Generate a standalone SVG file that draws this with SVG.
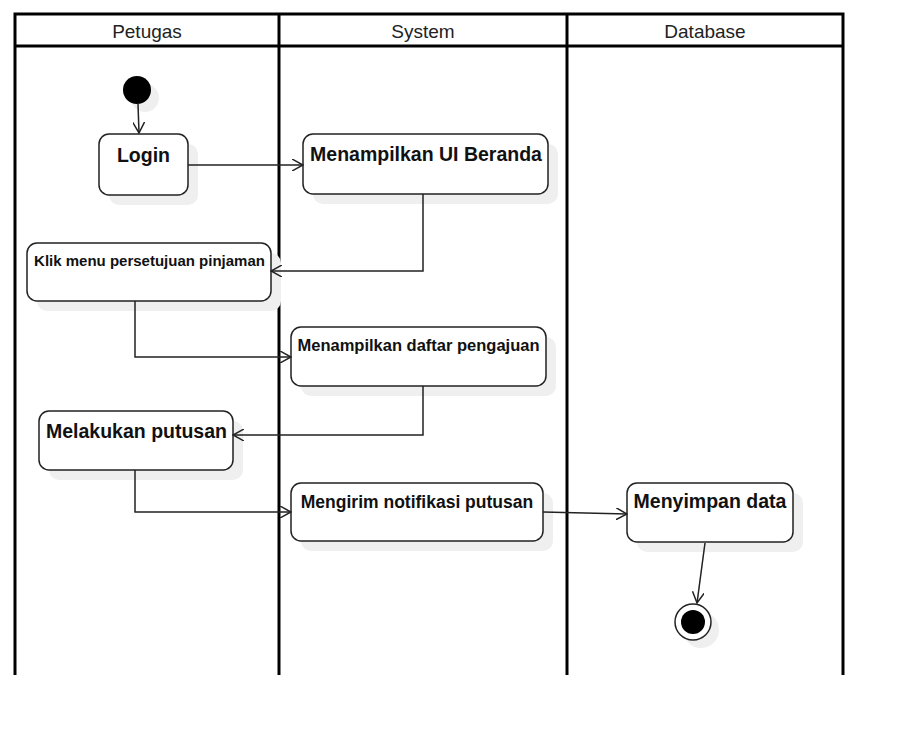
<svg xmlns="http://www.w3.org/2000/svg" width="903" height="735" viewBox="0 0 903 735">
<style>
.lane{fill:none;stroke:#000;stroke-width:3}
.hdr{font-family:"Liberation Sans",Arial,sans-serif;font-size:19px;fill:#222;text-anchor:middle}
.box{fill:#fff;stroke:#222;stroke-width:1.5}
.sh{fill:#efefef;stroke:none}
.t{font-family:"Liberation Sans",Arial,sans-serif;font-weight:bold;fill:#111;text-anchor:middle}
.c{fill:none;stroke:#222;stroke-width:1.5}
</style>
<defs>
<marker id="arr" viewBox="0 0 12 12" refX="11" refY="6" markerWidth="12" markerHeight="12" markerUnits="userSpaceOnUse" orient="auto">
<path d="M0,0 L11,6 L0,12" fill="none" stroke="#222" stroke-width="1.5"/>
</marker>
</defs>
<rect width="903" height="735" fill="#fff"/>
<g id="lanes">
<path class="lane" d="M15,675 V14 H843 V675 M279,14 V675 M567,14 V675 M15,46 H843"/>
<text class="hdr" x="147" y="38">Petugas</text>
<text class="hdr" x="423" y="38">System</text>
<text class="hdr" x="705" y="38">Database</text>
</g>
<g id="start">
<circle class="sh" cx="145" cy="98" r="14"/>
<circle cx="137" cy="90" r="14" fill="#000"/>
</g>
<g id="login">
<rect class="sh" x="109" y="144" width="89" height="61" rx="10"/>
<rect class="box" x="99" y="134" width="89" height="61" rx="10"/>
<text class="t" x="143.5" y="162" font-size="19.5">Login</text>
</g>
<g id="beranda">
<rect class="sh" x="313" y="144" width="245" height="60" rx="10"/>
<rect class="box" x="303" y="134" width="245" height="60" rx="10"/>
<text class="t" x="426" y="161" font-size="19.5">Menampilkan UI Beranda</text>
</g>
<g id="klik">
<rect class="sh" x="37" y="253" width="244" height="58" rx="10"/>
<rect class="box" x="27" y="243" width="244" height="58" rx="10"/>
<text class="t" x="149.5" y="266" font-size="15">Klik menu persetujuan pinjaman</text>
</g>
<g id="daftar">
<rect class="sh" x="301" y="337" width="255" height="59" rx="10"/>
<rect class="box" x="291" y="327" width="255" height="59" rx="10"/>
<text class="t" x="418.5" y="351" font-size="16.5">Menampilkan daftar pengajuan</text>
</g>
<g id="putusan">
<rect class="sh" x="49" y="421" width="194" height="59" rx="10"/>
<rect class="box" x="39" y="411" width="194" height="59" rx="10"/>
<text class="t" x="136.5" y="438" font-size="19.5">Melakukan putusan</text>
</g>
<g id="notifikasi">
<rect class="sh" x="301" y="493" width="252" height="58" rx="10"/>
<rect class="box" x="291" y="483" width="252" height="58" rx="10"/>
<text class="t" x="417" y="508" font-size="17.5">Mengirim notifikasi putusan</text>
</g>
<g id="simpan">
<rect class="sh" x="637" y="493" width="166" height="59" rx="10"/>
<rect class="box" x="627" y="483" width="166" height="59" rx="10"/>
<text class="t" x="710" y="508" font-size="19.5">Menyimpan data</text>
</g>
<g id="end">
<circle class="sh" cx="701" cy="630" r="18"/>
<circle cx="693" cy="622" r="18" fill="#fff" stroke="#222" stroke-width="1.5"/>
<circle cx="693" cy="622" r="12" fill="#000"/>
</g>
<g id="connectors">
<path class="c" d="M138,104 L139,133" marker-end="url(#arr)"/>
<path class="c" d="M188,165 H303" marker-end="url(#arr)"/>
<path class="c" d="M423,194 V271 H271" marker-end="url(#arr)"/>
<path class="c" d="M135,301 V357 H291" marker-end="url(#arr)"/>
<path class="c" d="M423,386 V435 H233" marker-end="url(#arr)"/>
<path class="c" d="M135,470 V512 H291" marker-end="url(#arr)"/>
<path class="c" d="M543,512 L627,514" marker-end="url(#arr)"/>
<path class="c" d="M705,543 L697,603" marker-end="url(#arr)"/>
</g>
</svg>
